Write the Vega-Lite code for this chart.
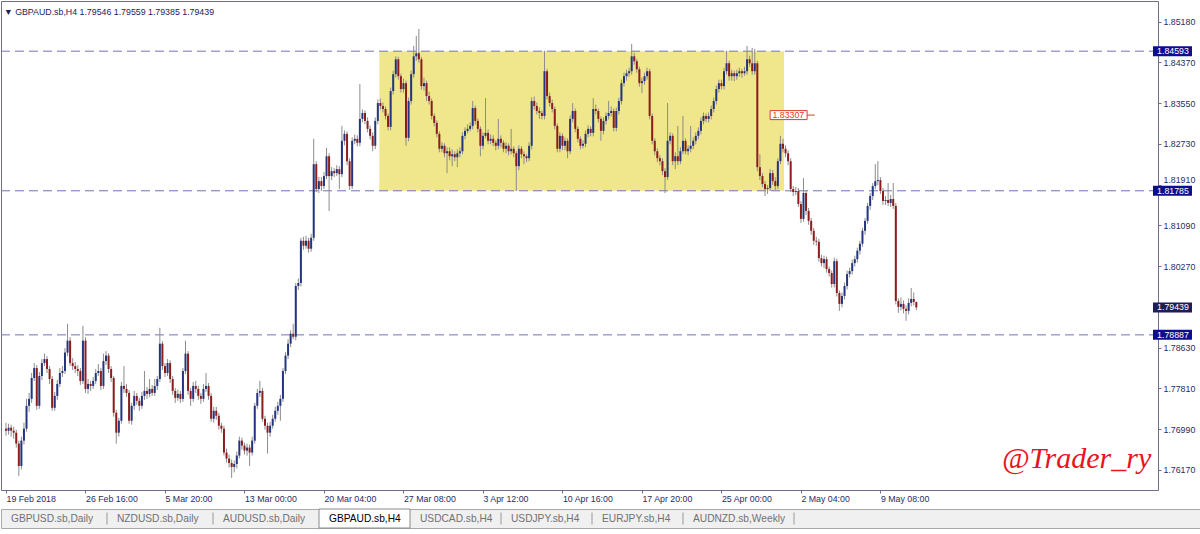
{
  "$schema": "https://vega.github.io/schema/vega-lite/v6.json",
  "padding": 0,
  "autosize": {"type": "pad"},
  "background": "white",
  "spacing": 19,
  "bounds": "flush",
  "config": {"font": "Liberation Sans", "view": {"stroke": null}, "axis": {"grid": false, "domain": false}},
  "datasets": {
    "bars": [
      {"i":0,"o":1.7700,"h":1.7712,"l":1.7686,"c":1.7696},
      {"i":1,"o":1.7696,"h":1.7710,"l":1.7688,"c":1.7702},
      {"i":2,"o":1.7702,"h":1.7708,"l":1.7684,"c":1.7696},
      {"i":3,"o":1.7696,"h":1.7704,"l":1.7680,"c":1.7692},
      {"i":4,"o":1.7692,"h":1.7698,"l":1.7662,"c":1.7670},
      {"i":5,"o":1.7670,"h":1.7676,"l":1.7605,"c":1.7625},
      {"i":6,"o":1.7625,"h":1.7684,"l":1.7618,"c":1.7676},
      {"i":7,"o":1.7676,"h":1.7712,"l":1.7668,"c":1.7700},
      {"i":8,"o":1.7700,"h":1.7760,"l":1.7694,"c":1.7746},
      {"i":9,"o":1.7746,"h":1.7772,"l":1.7734,"c":1.7760},
      {"i":10,"o":1.7760,"h":1.7812,"l":1.7752,"c":1.7802},
      {"i":11,"o":1.7802,"h":1.7832,"l":1.7796,"c":1.7822},
      {"i":12,"o":1.7822,"h":1.7828,"l":1.7738,"c":1.7746},
      {"i":13,"o":1.7746,"h":1.7814,"l":1.7740,"c":1.7806},
      {"i":14,"o":1.7806,"h":1.7840,"l":1.7798,"c":1.7832},
      {"i":15,"o":1.7832,"h":1.7851,"l":1.7826,"c":1.7840},
      {"i":16,"o":1.7840,"h":1.7846,"l":1.7812,"c":1.7820},
      {"i":17,"o":1.7820,"h":1.7826,"l":1.7790,"c":1.7800},
      {"i":18,"o":1.7800,"h":1.7806,"l":1.7736,"c":1.7742},
      {"i":19,"o":1.7742,"h":1.7774,"l":1.7736,"c":1.7766},
      {"i":20,"o":1.7766,"h":1.7798,"l":1.7758,"c":1.7790},
      {"i":21,"o":1.7790,"h":1.7822,"l":1.7784,"c":1.7812},
      {"i":22,"o":1.7812,"h":1.7826,"l":1.7804,"c":1.7816},
      {"i":23,"o":1.7816,"h":1.7862,"l":1.7810,"c":1.7853},
      {"i":24,"o":1.7853,"h":1.7911,"l":1.7846,"c":1.7877},
      {"i":25,"o":1.7877,"h":1.7884,"l":1.7826,"c":1.7832},
      {"i":26,"o":1.7832,"h":1.7842,"l":1.7818,"c":1.7826},
      {"i":27,"o":1.7826,"h":1.7834,"l":1.7812,"c":1.7820},
      {"i":28,"o":1.7820,"h":1.7828,"l":1.7806,"c":1.7816},
      {"i":29,"o":1.7816,"h":1.7822,"l":1.7788,"c":1.7796},
      {"i":30,"o":1.7796,"h":1.7907,"l":1.7790,"c":1.7877},
      {"i":31,"o":1.7877,"h":1.7884,"l":1.7772,"c":1.7780},
      {"i":32,"o":1.7780,"h":1.7800,"l":1.7770,"c":1.7790},
      {"i":33,"o":1.7790,"h":1.7796,"l":1.7776,"c":1.7786},
      {"i":34,"o":1.7786,"h":1.7804,"l":1.7780,"c":1.7796},
      {"i":35,"o":1.7796,"h":1.7820,"l":1.7790,"c":1.7812},
      {"i":36,"o":1.7812,"h":1.7830,"l":1.7806,"c":1.7816},
      {"i":37,"o":1.7816,"h":1.7822,"l":1.7778,"c":1.7786},
      {"i":38,"o":1.7786,"h":1.7851,"l":1.7780,"c":1.7836},
      {"i":39,"o":1.7836,"h":1.7856,"l":1.7828,"c":1.7847},
      {"i":40,"o":1.7847,"h":1.7852,"l":1.7812,"c":1.7820},
      {"i":41,"o":1.7820,"h":1.7826,"l":1.7794,"c":1.7802},
      {"i":42,"o":1.7802,"h":1.7806,"l":1.7724,"c":1.7732},
      {"i":43,"o":1.7732,"h":1.7738,"l":1.7670,"c":1.7692},
      {"i":44,"o":1.7692,"h":1.7722,"l":1.7684,"c":1.7716},
      {"i":45,"o":1.7716,"h":1.7794,"l":1.7710,"c":1.7786},
      {"i":46,"o":1.7786,"h":1.7826,"l":1.7772,"c":1.7780},
      {"i":47,"o":1.7780,"h":1.7790,"l":1.7764,"c":1.7772},
      {"i":48,"o":1.7772,"h":1.7778,"l":1.7710,"c":1.7716},
      {"i":49,"o":1.7716,"h":1.7752,"l":1.7708,"c":1.7746},
      {"i":50,"o":1.7746,"h":1.7776,"l":1.7738,"c":1.7766},
      {"i":51,"o":1.7766,"h":1.7772,"l":1.7748,"c":1.7756},
      {"i":52,"o":1.7756,"h":1.7762,"l":1.7736,"c":1.7746},
      {"i":53,"o":1.7746,"h":1.7774,"l":1.7740,"c":1.7766},
      {"i":54,"o":1.7766,"h":1.7816,"l":1.7758,"c":1.7776},
      {"i":55,"o":1.7776,"h":1.7784,"l":1.7760,"c":1.7770},
      {"i":56,"o":1.7770,"h":1.7800,"l":1.7764,"c":1.7780},
      {"i":57,"o":1.7780,"h":1.7788,"l":1.7766,"c":1.7772},
      {"i":58,"o":1.7772,"h":1.7800,"l":1.7766,"c":1.7786},
      {"i":59,"o":1.7786,"h":1.7806,"l":1.7778,"c":1.7800},
      {"i":60,"o":1.7800,"h":1.7903,"l":1.7794,"c":1.7871},
      {"i":61,"o":1.7871,"h":1.7876,"l":1.7818,"c":1.7826},
      {"i":62,"o":1.7826,"h":1.7832,"l":1.7804,"c":1.7812},
      {"i":63,"o":1.7812,"h":1.7840,"l":1.7806,"c":1.7832},
      {"i":64,"o":1.7832,"h":1.7838,"l":1.7792,"c":1.7800},
      {"i":65,"o":1.7800,"h":1.7806,"l":1.7768,"c":1.7776},
      {"i":66,"o":1.7776,"h":1.7782,"l":1.7752,"c":1.7762},
      {"i":67,"o":1.7762,"h":1.7778,"l":1.7756,"c":1.7770},
      {"i":68,"o":1.7770,"h":1.7776,"l":1.7752,"c":1.7760},
      {"i":69,"o":1.7760,"h":1.7822,"l":1.7754,"c":1.7816},
      {"i":70,"o":1.7816,"h":1.7877,"l":1.7810,"c":1.7851},
      {"i":71,"o":1.7851,"h":1.7856,"l":1.7768,"c":1.7776},
      {"i":72,"o":1.7776,"h":1.7782,"l":1.7746,"c":1.7760},
      {"i":73,"o":1.7760,"h":1.7794,"l":1.7754,"c":1.7786},
      {"i":74,"o":1.7786,"h":1.7796,"l":1.7772,"c":1.7780},
      {"i":75,"o":1.7780,"h":1.7786,"l":1.7758,"c":1.7766},
      {"i":76,"o":1.7766,"h":1.7772,"l":1.7750,"c":1.7760},
      {"i":77,"o":1.7760,"h":1.7790,"l":1.7754,"c":1.7780},
      {"i":78,"o":1.7780,"h":1.7812,"l":1.7774,"c":1.7786},
      {"i":79,"o":1.7786,"h":1.7792,"l":1.7758,"c":1.7766},
      {"i":80,"o":1.7766,"h":1.7772,"l":1.7714,"c":1.7720},
      {"i":81,"o":1.7720,"h":1.7744,"l":1.7712,"c":1.7736},
      {"i":82,"o":1.7736,"h":1.7744,"l":1.7718,"c":1.7726},
      {"i":83,"o":1.7726,"h":1.7732,"l":1.7698,"c":1.7706},
      {"i":84,"o":1.7706,"h":1.7712,"l":1.7692,"c":1.7700},
      {"i":85,"o":1.7700,"h":1.7706,"l":1.7646,"c":1.7652},
      {"i":86,"o":1.7652,"h":1.7660,"l":1.7632,"c":1.7640},
      {"i":87,"o":1.7640,"h":1.7648,"l":1.7622,"c":1.7631},
      {"i":88,"o":1.7631,"h":1.7638,"l":1.7601,"c":1.7623},
      {"i":89,"o":1.7623,"h":1.7636,"l":1.7612,"c":1.7629},
      {"i":90,"o":1.7629,"h":1.7654,"l":1.7620,"c":1.7646},
      {"i":91,"o":1.7646,"h":1.7684,"l":1.7640,"c":1.7676},
      {"i":92,"o":1.7676,"h":1.7682,"l":1.7658,"c":1.7666},
      {"i":93,"o":1.7666,"h":1.7672,"l":1.7648,"c":1.7656},
      {"i":94,"o":1.7656,"h":1.7670,"l":1.7646,"c":1.7662},
      {"i":95,"o":1.7662,"h":1.7668,"l":1.7625,"c":1.7652},
      {"i":96,"o":1.7652,"h":1.7684,"l":1.7646,"c":1.7676},
      {"i":97,"o":1.7676,"h":1.7752,"l":1.7670,"c":1.7746},
      {"i":98,"o":1.7746,"h":1.7780,"l":1.7740,"c":1.7772},
      {"i":99,"o":1.7772,"h":1.7796,"l":1.7764,"c":1.7776},
      {"i":100,"o":1.7776,"h":1.7782,"l":1.7714,"c":1.7720},
      {"i":101,"o":1.7720,"h":1.7726,"l":1.7698,"c":1.7706},
      {"i":102,"o":1.7706,"h":1.7712,"l":1.7650,"c":1.7692},
      {"i":103,"o":1.7692,"h":1.7714,"l":1.7684,"c":1.7706},
      {"i":104,"o":1.7706,"h":1.7728,"l":1.7700,"c":1.7720},
      {"i":105,"o":1.7720,"h":1.7744,"l":1.7714,"c":1.7736},
      {"i":106,"o":1.7736,"h":1.7754,"l":1.7728,"c":1.7746},
      {"i":107,"o":1.7746,"h":1.7768,"l":1.7716,"c":1.7760},
      {"i":108,"o":1.7760,"h":1.7822,"l":1.7754,"c":1.7816},
      {"i":109,"o":1.7816,"h":1.7854,"l":1.7810,"c":1.7847},
      {"i":110,"o":1.7847,"h":1.7880,"l":1.7840,"c":1.7871},
      {"i":111,"o":1.7871,"h":1.7898,"l":1.7864,"c":1.7891},
      {"i":112,"o":1.7891,"h":1.7911,"l":1.7880,"c":1.7885},
      {"i":113,"o":1.7885,"h":1.7993,"l":1.7878,"c":1.7987},
      {"i":114,"o":1.7987,"h":1.8002,"l":1.7979,"c":1.7993},
      {"i":115,"o":1.7993,"h":1.8084,"l":1.7986,"c":1.8078},
      {"i":116,"o":1.8078,"h":1.8086,"l":1.8060,"c":1.8068},
      {"i":117,"o":1.8068,"h":1.8088,"l":1.8062,"c":1.8078},
      {"i":118,"o":1.8078,"h":1.8084,"l":1.8054,"c":1.8062},
      {"i":119,"o":1.8062,"h":1.8092,"l":1.8056,"c":1.8084},
      {"i":120,"o":1.8084,"h":1.8283,"l":1.8078,"c":1.8232},
      {"i":121,"o":1.8232,"h":1.8238,"l":1.8176,"c":1.8182},
      {"i":122,"o":1.8182,"h":1.8206,"l":1.8174,"c":1.8198},
      {"i":123,"o":1.8198,"h":1.8206,"l":1.8178,"c":1.8188},
      {"i":124,"o":1.8188,"h":1.8216,"l":1.8182,"c":1.8208},
      {"i":125,"o":1.8208,"h":1.8265,"l":1.8202,"c":1.8248},
      {"i":126,"o":1.8248,"h":1.8254,"l":1.8138,"c":1.8208},
      {"i":127,"o":1.8208,"h":1.8226,"l":1.8200,"c":1.8218},
      {"i":128,"o":1.8218,"h":1.8224,"l":1.8206,"c":1.8214},
      {"i":129,"o":1.8214,"h":1.8230,"l":1.8208,"c":1.8222},
      {"i":130,"o":1.8222,"h":1.8228,"l":1.8182,"c":1.8212},
      {"i":131,"o":1.8212,"h":1.8309,"l":1.8206,"c":1.8279},
      {"i":132,"o":1.8279,"h":1.8300,"l":1.8270,"c":1.8293},
      {"i":133,"o":1.8293,"h":1.8298,"l":1.8230,"c":1.8238},
      {"i":134,"o":1.8238,"h":1.8244,"l":1.8180,"c":1.8188},
      {"i":135,"o":1.8188,"h":1.8286,"l":1.8182,"c":1.8279},
      {"i":136,"o":1.8279,"h":1.8292,"l":1.8272,"c":1.8283},
      {"i":137,"o":1.8283,"h":1.8290,"l":1.8268,"c":1.8275},
      {"i":138,"o":1.8275,"h":1.8393,"l":1.8268,"c":1.8323},
      {"i":139,"o":1.8323,"h":1.8342,"l":1.8316,"c":1.8335},
      {"i":140,"o":1.8335,"h":1.8340,"l":1.8312,"c":1.8319},
      {"i":141,"o":1.8319,"h":1.8326,"l":1.8296,"c":1.8303},
      {"i":142,"o":1.8303,"h":1.8310,"l":1.8282,"c":1.8289},
      {"i":143,"o":1.8289,"h":1.8296,"l":1.8258,"c":1.8269},
      {"i":144,"o":1.8269,"h":1.8326,"l":1.8262,"c":1.8319},
      {"i":145,"o":1.8319,"h":1.8362,"l":1.8312,"c":1.8355},
      {"i":146,"o":1.8355,"h":1.8364,"l":1.8342,"c":1.8349},
      {"i":147,"o":1.8349,"h":1.8356,"l":1.8336,"c":1.8343},
      {"i":148,"o":1.8343,"h":1.8348,"l":1.8322,"c":1.8329},
      {"i":149,"o":1.8329,"h":1.8334,"l":1.8300,"c":1.8307},
      {"i":150,"o":1.8307,"h":1.8386,"l":1.8300,"c":1.8379},
      {"i":151,"o":1.8379,"h":1.8420,"l":1.8372,"c":1.8413},
      {"i":152,"o":1.8413,"h":1.8449,"l":1.8406,"c":1.8443},
      {"i":153,"o":1.8443,"h":1.8448,"l":1.8402,"c":1.8409},
      {"i":154,"o":1.8409,"h":1.8414,"l":1.8376,"c":1.8383},
      {"i":155,"o":1.8383,"h":1.8404,"l":1.8376,"c":1.8395},
      {"i":156,"o":1.8395,"h":1.8400,"l":1.8269,"c":1.8285},
      {"i":157,"o":1.8285,"h":1.8366,"l":1.8278,"c":1.8359},
      {"i":158,"o":1.8359,"h":1.8420,"l":1.8352,"c":1.8413},
      {"i":159,"o":1.8413,"h":1.8470,"l":1.8406,"c":1.8449},
      {"i":160,"o":1.8449,"h":1.8490,"l":1.8440,"c":1.8455},
      {"i":161,"o":1.8455,"h":1.8504,"l":1.8436,"c":1.8443},
      {"i":162,"o":1.8443,"h":1.8448,"l":1.8382,"c":1.8389},
      {"i":163,"o":1.8389,"h":1.8406,"l":1.8380,"c":1.8395},
      {"i":164,"o":1.8395,"h":1.8400,"l":1.8359,"c":1.8369},
      {"i":165,"o":1.8369,"h":1.8378,"l":1.8352,"c":1.8359},
      {"i":166,"o":1.8359,"h":1.8364,"l":1.8322,"c":1.8329},
      {"i":167,"o":1.8329,"h":1.8334,"l":1.8308,"c":1.8315},
      {"i":168,"o":1.8315,"h":1.8320,"l":1.8286,"c":1.8293},
      {"i":169,"o":1.8293,"h":1.8298,"l":1.8256,"c":1.8263},
      {"i":170,"o":1.8263,"h":1.8276,"l":1.8256,"c":1.8269},
      {"i":171,"o":1.8269,"h":1.8274,"l":1.8246,"c":1.8254},
      {"i":172,"o":1.8254,"h":1.8266,"l":1.8214,"c":1.8258},
      {"i":173,"o":1.8258,"h":1.8266,"l":1.8240,"c":1.8248},
      {"i":174,"o":1.8248,"h":1.8262,"l":1.8228,"c":1.8252},
      {"i":175,"o":1.8252,"h":1.8258,"l":1.8238,"c":1.8246},
      {"i":176,"o":1.8246,"h":1.8262,"l":1.8226,"c":1.8254},
      {"i":177,"o":1.8254,"h":1.8266,"l":1.8246,"c":1.8258},
      {"i":178,"o":1.8258,"h":1.8296,"l":1.8252,"c":1.8289},
      {"i":179,"o":1.8289,"h":1.8306,"l":1.8282,"c":1.8299},
      {"i":180,"o":1.8299,"h":1.8312,"l":1.8294,"c":1.8303},
      {"i":181,"o":1.8303,"h":1.8316,"l":1.8298,"c":1.8309},
      {"i":182,"o":1.8309,"h":1.8359,"l":1.8302,"c":1.8345},
      {"i":183,"o":1.8345,"h":1.8350,"l":1.8312,"c":1.8319},
      {"i":184,"o":1.8319,"h":1.8324,"l":1.8296,"c":1.8303},
      {"i":185,"o":1.8303,"h":1.8308,"l":1.8248,"c":1.8269},
      {"i":186,"o":1.8269,"h":1.8296,"l":1.8262,"c":1.8289},
      {"i":187,"o":1.8289,"h":1.8365,"l":1.8284,"c":1.8295},
      {"i":188,"o":1.8295,"h":1.8302,"l":1.8272,"c":1.8279},
      {"i":189,"o":1.8279,"h":1.8292,"l":1.8272,"c":1.8283},
      {"i":190,"o":1.8283,"h":1.8290,"l":1.8268,"c":1.8275},
      {"i":191,"o":1.8275,"h":1.8280,"l":1.8260,"c":1.8269},
      {"i":192,"o":1.8269,"h":1.8323,"l":1.8262,"c":1.8283},
      {"i":193,"o":1.8283,"h":1.8290,"l":1.8266,"c":1.8275},
      {"i":194,"o":1.8275,"h":1.8280,"l":1.8256,"c":1.8263},
      {"i":195,"o":1.8263,"h":1.8276,"l":1.8254,"c":1.8269},
      {"i":196,"o":1.8269,"h":1.8274,"l":1.8250,"c":1.8258},
      {"i":197,"o":1.8258,"h":1.8303,"l":1.8252,"c":1.8263},
      {"i":198,"o":1.8263,"h":1.8268,"l":1.8246,"c":1.8254},
      {"i":199,"o":1.8254,"h":1.8258,"l":1.8178,"c":1.8228},
      {"i":200,"o":1.8228,"h":1.8270,"l":1.8220,"c":1.8263},
      {"i":201,"o":1.8263,"h":1.8268,"l":1.8244,"c":1.8252},
      {"i":202,"o":1.8252,"h":1.8258,"l":1.8232,"c":1.8248},
      {"i":203,"o":1.8248,"h":1.8252,"l":1.8236,"c":1.8244},
      {"i":204,"o":1.8244,"h":1.8276,"l":1.8238,"c":1.8269},
      {"i":205,"o":1.8269,"h":1.8366,"l":1.8262,"c":1.8359},
      {"i":206,"o":1.8359,"h":1.8368,"l":1.8342,"c":1.8349},
      {"i":207,"o":1.8349,"h":1.8356,"l":1.8332,"c":1.8339},
      {"i":208,"o":1.8339,"h":1.8346,"l":1.8323,"c":1.8335},
      {"i":209,"o":1.8335,"h":1.8340,"l":1.8322,"c":1.8329},
      {"i":210,"o":1.8329,"h":1.8460,"l":1.8322,"c":1.8419},
      {"i":211,"o":1.8419,"h":1.8424,"l":1.8362,"c":1.8369},
      {"i":212,"o":1.8369,"h":1.8376,"l":1.8348,"c":1.8355},
      {"i":213,"o":1.8355,"h":1.8362,"l":1.8336,"c":1.8343},
      {"i":214,"o":1.8343,"h":1.8348,"l":1.8302,"c":1.8309},
      {"i":215,"o":1.8309,"h":1.8314,"l":1.8256,"c":1.8263},
      {"i":216,"o":1.8263,"h":1.8296,"l":1.8256,"c":1.8289},
      {"i":217,"o":1.8289,"h":1.8294,"l":1.8260,"c":1.8269},
      {"i":218,"o":1.8269,"h":1.8286,"l":1.8260,"c":1.8279},
      {"i":219,"o":1.8279,"h":1.8284,"l":1.8244,"c":1.8258},
      {"i":220,"o":1.8258,"h":1.8330,"l":1.8252,"c":1.8323},
      {"i":221,"o":1.8323,"h":1.8355,"l":1.8316,"c":1.8339},
      {"i":222,"o":1.8339,"h":1.8344,"l":1.8296,"c":1.8303},
      {"i":223,"o":1.8303,"h":1.8308,"l":1.8276,"c":1.8283},
      {"i":224,"o":1.8283,"h":1.8288,"l":1.8262,"c":1.8269},
      {"i":225,"o":1.8269,"h":1.8280,"l":1.8264,"c":1.8273},
      {"i":226,"o":1.8273,"h":1.8300,"l":1.8266,"c":1.8293},
      {"i":227,"o":1.8293,"h":1.8310,"l":1.8286,"c":1.8303},
      {"i":228,"o":1.8303,"h":1.8308,"l":1.8288,"c":1.8295},
      {"i":229,"o":1.8295,"h":1.8365,"l":1.8288,"c":1.8343},
      {"i":230,"o":1.8343,"h":1.8352,"l":1.8332,"c":1.8339},
      {"i":231,"o":1.8339,"h":1.8344,"l":1.8316,"c":1.8323},
      {"i":232,"o":1.8323,"h":1.8328,"l":1.8279,"c":1.8299},
      {"i":233,"o":1.8299,"h":1.8326,"l":1.8292,"c":1.8319},
      {"i":234,"o":1.8319,"h":1.8336,"l":1.8312,"c":1.8329},
      {"i":235,"o":1.8329,"h":1.8359,"l":1.8322,"c":1.8335},
      {"i":236,"o":1.8335,"h":1.8348,"l":1.8328,"c":1.8339},
      {"i":237,"o":1.8339,"h":1.8344,"l":1.8298,"c":1.8305},
      {"i":238,"o":1.8305,"h":1.8346,"l":1.8298,"c":1.8339},
      {"i":239,"o":1.8339,"h":1.8366,"l":1.8332,"c":1.8359},
      {"i":240,"o":1.8359,"h":1.8402,"l":1.8352,"c":1.8395},
      {"i":241,"o":1.8395,"h":1.8416,"l":1.8388,"c":1.8409},
      {"i":242,"o":1.8409,"h":1.8422,"l":1.8400,"c":1.8415},
      {"i":243,"o":1.8415,"h":1.8426,"l":1.8408,"c":1.8419},
      {"i":244,"o":1.8419,"h":1.8474,"l":1.8412,"c":1.8449},
      {"i":245,"o":1.8449,"h":1.8456,"l":1.8432,"c":1.8439},
      {"i":246,"o":1.8439,"h":1.8444,"l":1.8416,"c":1.8423},
      {"i":247,"o":1.8423,"h":1.8428,"l":1.8388,"c":1.8395},
      {"i":248,"o":1.8395,"h":1.8406,"l":1.8375,"c":1.8399},
      {"i":249,"o":1.8399,"h":1.8416,"l":1.8392,"c":1.8409},
      {"i":250,"o":1.8409,"h":1.8426,"l":1.8402,"c":1.8419},
      {"i":251,"o":1.8419,"h":1.8424,"l":1.8322,"c":1.8329},
      {"i":252,"o":1.8329,"h":1.8334,"l":1.8272,"c":1.8279},
      {"i":253,"o":1.8279,"h":1.8284,"l":1.8250,"c":1.8258},
      {"i":254,"o":1.8258,"h":1.8264,"l":1.8236,"c":1.8244},
      {"i":255,"o":1.8244,"h":1.8250,"l":1.8230,"c":1.8238},
      {"i":256,"o":1.8238,"h":1.8244,"l":1.8210,"c":1.8218},
      {"i":257,"o":1.8218,"h":1.8224,"l":1.8174,"c":1.8206},
      {"i":258,"o":1.8206,"h":1.8355,"l":1.8200,"c":1.8279},
      {"i":259,"o":1.8279,"h":1.8296,"l":1.8272,"c":1.8289},
      {"i":260,"o":1.8289,"h":1.8294,"l":1.8230,"c":1.8238},
      {"i":261,"o":1.8238,"h":1.8256,"l":1.8222,"c":1.8248},
      {"i":262,"o":1.8248,"h":1.8309,"l":1.8230,"c":1.8238},
      {"i":263,"o":1.8238,"h":1.8266,"l":1.8232,"c":1.8258},
      {"i":264,"o":1.8258,"h":1.8329,"l":1.8252,"c":1.8279},
      {"i":265,"o":1.8279,"h":1.8284,"l":1.8252,"c":1.8258},
      {"i":266,"o":1.8258,"h":1.8270,"l":1.8250,"c":1.8263},
      {"i":267,"o":1.8263,"h":1.8309,"l":1.8256,"c":1.8269},
      {"i":268,"o":1.8269,"h":1.8286,"l":1.8262,"c":1.8279},
      {"i":269,"o":1.8279,"h":1.8296,"l":1.8272,"c":1.8289},
      {"i":270,"o":1.8289,"h":1.8306,"l":1.8282,"c":1.8299},
      {"i":271,"o":1.8299,"h":1.8326,"l":1.8292,"c":1.8319},
      {"i":272,"o":1.8319,"h":1.8336,"l":1.8312,"c":1.8329},
      {"i":273,"o":1.8329,"h":1.8334,"l":1.8316,"c":1.8323},
      {"i":274,"o":1.8323,"h":1.8336,"l":1.8316,"c":1.8329},
      {"i":275,"o":1.8329,"h":1.8350,"l":1.8322,"c":1.8343},
      {"i":276,"o":1.8343,"h":1.8366,"l":1.8336,"c":1.8359},
      {"i":277,"o":1.8359,"h":1.8390,"l":1.8352,"c":1.8383},
      {"i":278,"o":1.8383,"h":1.8402,"l":1.8376,"c":1.8395},
      {"i":279,"o":1.8395,"h":1.8402,"l":1.8382,"c":1.8389},
      {"i":280,"o":1.8389,"h":1.8426,"l":1.8382,"c":1.8419},
      {"i":281,"o":1.8419,"h":1.8460,"l":1.8412,"c":1.8435},
      {"i":282,"o":1.8435,"h":1.8440,"l":1.8400,"c":1.8409},
      {"i":283,"o":1.8409,"h":1.8422,"l":1.8400,"c":1.8415},
      {"i":284,"o":1.8415,"h":1.8420,"l":1.8399,"c":1.8409},
      {"i":285,"o":1.8409,"h":1.8422,"l":1.8402,"c":1.8415},
      {"i":286,"o":1.8415,"h":1.8426,"l":1.8408,"c":1.8419},
      {"i":287,"o":1.8419,"h":1.8424,"l":1.8406,"c":1.8415},
      {"i":288,"o":1.8415,"h":1.8428,"l":1.8410,"c":1.8419},
      {"i":289,"o":1.8419,"h":1.8470,"l":1.8412,"c":1.8443},
      {"i":290,"o":1.8443,"h":1.8450,"l":1.8428,"c":1.8435},
      {"i":291,"o":1.8435,"h":1.8466,"l":1.8412,"c":1.8419},
      {"i":292,"o":1.8419,"h":1.8464,"l":1.8412,"c":1.8435},
      {"i":293,"o":1.8435,"h":1.8440,"l":1.8218,"c":1.8226},
      {"i":294,"o":1.8226,"h":1.8252,"l":1.8200,"c":1.8208},
      {"i":295,"o":1.8208,"h":1.8214,"l":1.8186,"c":1.8192},
      {"i":296,"o":1.8192,"h":1.8198,"l":1.8168,"c":1.8182},
      {"i":297,"o":1.8182,"h":1.8190,"l":1.8172,"c":1.8184},
      {"i":298,"o":1.8184,"h":1.8222,"l":1.8178,"c":1.8214},
      {"i":299,"o":1.8214,"h":1.8220,"l":1.8190,"c":1.8198},
      {"i":300,"o":1.8198,"h":1.8206,"l":1.8180,"c":1.8188},
      {"i":301,"o":1.8188,"h":1.8244,"l":1.8182,"c":1.8238},
      {"i":302,"o":1.8238,"h":1.8289,"l":1.8232,"c":1.8273},
      {"i":303,"o":1.8273,"h":1.8283,"l":1.8256,"c":1.8263},
      {"i":304,"o":1.8263,"h":1.8270,"l":1.8246,"c":1.8254},
      {"i":305,"o":1.8254,"h":1.8260,"l":1.8230,"c":1.8238},
      {"i":306,"o":1.8238,"h":1.8244,"l":1.8176,"c":1.8182},
      {"i":307,"o":1.8182,"h":1.8188,"l":1.8168,"c":1.8176},
      {"i":308,"o":1.8176,"h":1.8186,"l":1.8170,"c":1.8178},
      {"i":309,"o":1.8178,"h":1.8184,"l":1.8146,"c":1.8152},
      {"i":310,"o":1.8152,"h":1.8158,"l":1.8114,"c":1.8122},
      {"i":311,"o":1.8122,"h":1.8204,"l":1.8116,"c":1.8174},
      {"i":312,"o":1.8174,"h":1.8180,"l":1.8130,"c":1.8138},
      {"i":313,"o":1.8138,"h":1.8144,"l":1.8110,"c":1.8118},
      {"i":314,"o":1.8118,"h":1.8124,"l":1.8090,"c":1.8098},
      {"i":315,"o":1.8098,"h":1.8104,"l":1.8070,"c":1.8078},
      {"i":316,"o":1.8078,"h":1.8086,"l":1.8068,"c":1.8076},
      {"i":317,"o":1.8076,"h":1.8082,"l":1.8036,"c":1.8043},
      {"i":318,"o":1.8043,"h":1.8050,"l":1.8026,"c":1.8033},
      {"i":319,"o":1.8033,"h":1.8048,"l":1.8023,"c":1.8041},
      {"i":320,"o":1.8041,"h":1.8046,"l":1.8014,"c":1.8021},
      {"i":321,"o":1.8021,"h":1.8026,"l":1.8006,"c":1.8013},
      {"i":322,"o":1.8013,"h":1.8018,"l":1.7984,"c":1.7991},
      {"i":323,"o":1.7991,"h":1.8044,"l":1.7984,"c":1.8037},
      {"i":324,"o":1.8037,"h":1.8042,"l":1.7966,"c":1.7973},
      {"i":325,"o":1.7973,"h":1.7978,"l":1.7937,"c":1.7951},
      {"i":326,"o":1.7951,"h":1.7974,"l":1.7944,"c":1.7967},
      {"i":327,"o":1.7967,"h":1.7994,"l":1.7960,"c":1.7987},
      {"i":328,"o":1.7987,"h":1.8018,"l":1.7980,"c":1.8011},
      {"i":329,"o":1.8011,"h":1.8024,"l":1.8004,"c":1.8017},
      {"i":330,"o":1.8017,"h":1.8040,"l":1.8010,"c":1.8033},
      {"i":331,"o":1.8033,"h":1.8048,"l":1.8026,"c":1.8041},
      {"i":332,"o":1.8041,"h":1.8064,"l":1.8034,"c":1.8058},
      {"i":333,"o":1.8058,"h":1.8078,"l":1.8050,"c":1.8072},
      {"i":334,"o":1.8072,"h":1.8104,"l":1.8066,"c":1.8098},
      {"i":335,"o":1.8098,"h":1.8124,"l":1.8090,"c":1.8118},
      {"i":336,"o":1.8118,"h":1.8154,"l":1.8112,"c":1.8148},
      {"i":337,"o":1.8148,"h":1.8174,"l":1.8140,"c":1.8168},
      {"i":338,"o":1.8168,"h":1.8194,"l":1.8160,"c":1.8188},
      {"i":339,"o":1.8188,"h":1.8232,"l":1.8182,"c":1.8198},
      {"i":340,"o":1.8198,"h":1.8238,"l":1.8190,"c":1.8200},
      {"i":341,"o":1.8200,"h":1.8206,"l":1.8172,"c":1.8178},
      {"i":342,"o":1.8178,"h":1.8184,"l":1.8150,"c":1.8158},
      {"i":343,"o":1.8158,"h":1.8168,"l":1.8150,"c":1.8160},
      {"i":344,"o":1.8160,"h":1.8194,"l":1.8148,"c":1.8154},
      {"i":345,"o":1.8154,"h":1.8170,"l":1.8146,"c":1.8162},
      {"i":346,"o":1.8162,"h":1.8194,"l":1.8142,"c":1.8148},
      {"i":347,"o":1.8148,"h":1.8154,"l":1.7950,"c":1.7957},
      {"i":348,"o":1.7957,"h":1.7962,"l":1.7933,"c":1.7945},
      {"i":349,"o":1.7945,"h":1.7964,"l":1.7938,"c":1.7951},
      {"i":350,"o":1.7951,"h":1.7958,"l":1.7932,"c":1.7941},
      {"i":351,"o":1.7941,"h":1.7948,"l":1.7917,"c":1.7937},
      {"i":352,"o":1.7937,"h":1.7962,"l":1.7930,"c":1.7953},
      {"i":353,"o":1.7953,"h":1.7983,"l":1.7946,"c":1.7961},
      {"i":354,"o":1.7961,"h":1.7974,"l":1.7948,"c":1.7955},
      {"i":355,"o":1.79546,"h":1.79559,"l":1.79385,"c":1.79439}
    ]
  },
  "vconcat": [
    {
      "width": 1157,
      "height": 489,
      "view": {"stroke": "#6e6e8e", "strokeWidth": 1},
      "title": {"text": "▼ GBPAUD.sb,H4  1.79546 1.79559 1.79385 1.79439", "frame": "group", "anchor": "start", "orient": "top", "offset": -25, "dx": 3, "baseline": "bottom", "fontSize": 8.8, "fontWeight": "normal", "color": "#1c1c5a", "font": "Liberation Sans"},
      "layer": [
        {
          "data": {"values": [{"t0": 145.6, "t1": 303.4, "p0": 1.84593, "p1": 1.81785}]},
          "mark": {"type": "rect", "color": "#F0E68C"},
          "encoding": {
            "x": {"field": "t0", "type": "quantitative", "title": null, "scale": {"domain": [0, 447.3], "nice": false, "zero": false}},
            "x2": {"field": "t1"},
            "y": {"field": "p0", "type": "quantitative", "title": null, "scale": {"domain": [1.75767, 1.85602], "nice": false, "zero": false}},
            "y2": {"field": "p1"}
          }
        },
        {
          "data": {"values": [{"p": 1.84593}, {"p": 1.81785}, {"p": 1.78887}]},
          "mark": {"type": "rule", "color": "#7373b5", "strokeDash": [9, 5], "strokeWidth": 1},
          "encoding": {
            "y": {"field": "p", "type": "quantitative", "title": null, "scale": {"domain": [1.75767, 1.85602], "nice": false, "zero": false}}
          }
        },
        {
          "data": {"name": "bars"},
          "mark": {"type": "rule", "color": "#8c8c8c", "strokeWidth": 1},
          "encoding": {
            "x": {
              "field": "i", "type": "quantitative", "title": null,
              "scale": {"domain": [0, 447.3], "nice": false, "zero": false},
              "axis": {
                "orient": "bottom",
                "values": [0, 31, 62, 93, 124, 155, 186, 217, 248, 279, 310, 341],
                "labelExpr": "['19 Feb 2018','26 Feb 16:00','5 Mar 20:00','13 Mar 00:00','20 Mar 04:00','27 Mar 08:00','3 Apr 12:00','10 Apr 16:00','17 Apr 20:00','25 Apr 00:00','2 May 04:00','9 May 08:00'][round(datum.value / 31)]",
                "labelAlign": "left", "labelBaseline": "top", "labelPadding": 1,
                "labelFont": "Liberation Sans", "labelFontSize": 8.8, "labelColor": "#2b2b5e",
                "tickSize": 3, "tickColor": "#6e6e8e", "domain": false, "grid": false,
                "labelFlush": false, "labelOverlap": false, "labelBound": false
              }
            },
            "y": {
              "field": "l", "type": "quantitative", "title": null,
              "scale": {"domain": [1.75767, 1.85602], "nice": false, "zero": false},
              "axis": {
                "orient": "right",
                "values": [1.7617, 1.7699, 1.7781, 1.7863, 1.8027, 1.8109, 1.8191, 1.8273, 1.8355, 1.8437, 1.8518],
                "format": ".5f",
                "labelAlign": "left", "labelBaseline": "middle", "labelPadding": 2,
                "labelOffset": {"condition": {"test": "abs(datum.value - 1.8191) < 0.0001", "value": -5}, "value": 0},
                "labelFont": "Liberation Sans", "labelFontSize": 8.8, "labelColor": "#2b2b5e",
                "tickSize": 3, "tickColor": "#6e6e8e", "domain": false, "grid": false,
                "labelFlush": false, "labelOverlap": false, "labelBound": false
              }
            },
            "y2": {"field": "h"}
          }
        },
        {
          "data": {"name": "bars"},
          "mark": {"type": "bar", "width": 2},
          "encoding": {
            "x": {"field": "i", "type": "quantitative", "title": null, "scale": {"domain": [0, 447.3], "nice": false, "zero": false}},
            "y": {"field": "o", "type": "quantitative", "title": null, "scale": {"domain": [1.75767, 1.85602], "nice": false, "zero": false}},
            "y2": {"field": "c"},
            "color": {"condition": {"test": "datum.c >= datum.o", "value": "#24357f"}, "value": "#8b1d1d"}
          }
        },
        {
          "data": {"values": [{"p": 1.83307, "label": "1.83307"}]},
          "layer": [
            {
              "mark": {"type": "rule", "color": "#e23a2e", "strokeWidth": 1},
              "encoding": {
                "x": {"datum": 312.4, "type": "quantitative", "scale": {"domain": [0, 447.3], "nice": false, "zero": false}},
                "x2": {"datum": 315.4},
                "y": {"field": "p", "type": "quantitative", "title": null, "scale": {"domain": [1.75767, 1.85602], "nice": false, "zero": false}}
              }
            },
            {
              "mark": {"type": "tick", "orient": "horizontal", "size": 37, "thickness": 9, "fill": "#ffffff", "stroke": "#e23a2e", "strokeWidth": 1, "opacity": 1},
              "encoding": {
                "x": {"datum": 305.2, "type": "quantitative", "scale": {"domain": [0, 447.3], "nice": false, "zero": false}},
                "y": {"field": "p", "type": "quantitative", "title": null, "scale": {"domain": [1.75767, 1.85602], "nice": false, "zero": false}}
              }
            },
            {
              "mark": {"type": "text", "align": "left", "baseline": "middle", "font": "Liberation Sans", "fontSize": 8.8, "color": "#e23a2e"},
              "encoding": {
                "x": {"datum": 298.9, "type": "quantitative", "scale": {"domain": [0, 447.3], "nice": false, "zero": false}},
                "y": {"field": "p", "type": "quantitative", "title": null, "scale": {"domain": [1.75767, 1.85602], "nice": false, "zero": false}},
                "text": {"field": "label"}
              }
            }
          ]
        },
        {
          "data": {"values": [
            {"p": 1.84593, "label": "1.84593", "kind": "level"},
            {"p": 1.81785, "label": "1.81785", "kind": "level"},
            {"p": 1.78887, "label": "1.78887", "kind": "level"},
            {"p": 1.79439, "label": "1.79439", "kind": "last"}
          ]},
          "layer": [
            {
              "mark": {"type": "tick", "orient": "horizontal", "size": 39, "thickness": 10, "opacity": 1, "clip": false},
              "encoding": {
                "x": {"datum": 454.9, "type": "quantitative", "scale": {"domain": [0, 447.3], "nice": false, "zero": false}},
                "y": {"field": "p", "type": "quantitative", "title": null, "scale": {"domain": [1.75767, 1.85602], "nice": false, "zero": false}},
                "color": {"condition": {"test": "datum.kind == 'last'", "value": "#1d1d58"}, "value": "#0e0e8c"}
              }
            },
            {
              "mark": {"type": "text", "align": "left", "baseline": "middle", "font": "Liberation Sans", "fontSize": 8.8, "color": "#ffffff", "clip": false},
              "encoding": {
                "x": {"datum": 448.9, "type": "quantitative", "scale": {"domain": [0, 447.3], "nice": false, "zero": false}},
                "y": {"field": "p", "type": "quantitative", "title": null, "scale": {"domain": [1.75767, 1.85602], "nice": false, "zero": false}},
                "text": {"field": "label"}
              }
            }
          ]
        },
        {
          "data": {"values": [{"sig": "@Trader_ry"}]},
          "mark": {"type": "text", "font": "Liberation Serif", "fontStyle": "italic", "fontSize": 30, "color": "#e8141e", "align": "center", "baseline": "middle", "clip": false},
          "encoding": {
            "x": {"datum": 417.5, "type": "quantitative", "scale": {"domain": [0, 447.3], "nice": false, "zero": false}},
            "y": {"datum": 1.7639, "type": "quantitative", "scale": {"domain": [1.75767, 1.85602], "nice": false, "zero": false}},
            "text": {"field": "sig"}
          }
        }
      ]
    },
    {
      "width": 1200,
      "height": 19,
      "view": {"stroke": "#a8a8a8", "fill": "#f0f0f0"},
      "data": {"values": [
        {"tab": "GBPUSD.sb,Daily", "n": 1, "on": 0},
        {"tab": "NZDUSD.sb,Daily", "n": 2, "on": 0},
        {"tab": "AUDUSD.sb,Daily", "n": 3, "on": 0},
        {"tab": "GBPAUD.sb,H4", "n": 4, "on": 1},
        {"tab": "USDCAD.sb,H4", "n": 5, "on": 0},
        {"tab": "USDJPY.sb,H4", "n": 6, "on": 0},
        {"tab": "EURJPY.sb,H4", "n": 7, "on": 0},
        {"tab": "AUDNZD.sb,Weekly", "n": 8, "on": 0}
      ]},
      "transform": [
        {"calculate": "5 * length(datum.tab) + 31", "as": "w"},
        {"window": [{"op": "sum", "field": "w", "as": "x1"}], "sort": [{"field": "n", "order": "ascending"}], "frame": [null, 0]},
        {"calculate": "datum.x1 - datum.w", "as": "x0"}
      ],
      "layer": [
        {
          "transform": [{"filter": "datum.on == 1"}],
          "mark": {"type": "rect", "fill": "#ffffff", "stroke": "#8a8a8a", "strokeWidth": 1},
          "encoding": {
            "x": {"field": "x0", "type": "quantitative", "axis": null, "scale": {"domain": [0, 1200], "nice": false, "zero": false}},
            "x2": {"field": "x1"}
          }
        },
        {
          "transform": [{"filter": "datum.n != 3 && datum.n != 4"}],
          "mark": {"type": "tick", "orient": "vertical", "size": 12, "thickness": 1, "color": "#9a9a9a", "opacity": 1},
          "encoding": {
            "x": {"field": "x1", "type": "quantitative", "axis": null, "scale": {"domain": [0, 1200], "nice": false, "zero": false}}
          }
        },
        {
          "mark": {"type": "text", "align": "left", "baseline": "middle", "dx": 10, "font": "Liberation Sans", "fontSize": 10.2},
          "encoding": {
            "x": {"field": "x0", "type": "quantitative", "axis": null, "scale": {"domain": [0, 1200], "nice": false, "zero": false}},
            "text": {"field": "tab"},
            "color": {"condition": {"test": "datum.on == 1", "value": "#000000"}, "value": "#707070"}
          }
        }
      ]
    }
  ]
}
